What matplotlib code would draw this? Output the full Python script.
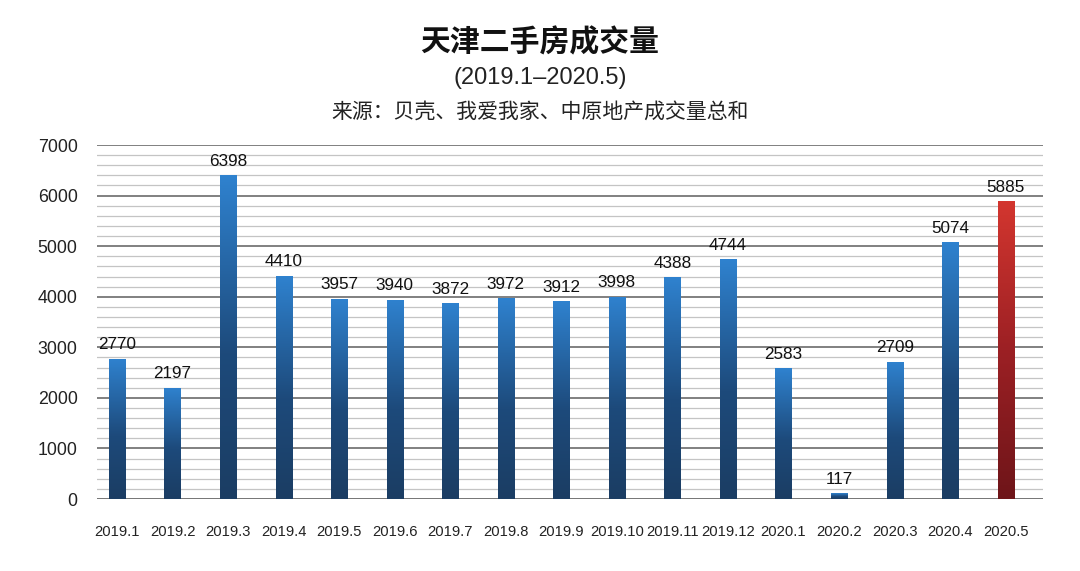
import matplotlib
matplotlib.use("Agg")
import matplotlib.pyplot as plt
import numpy as np
from matplotlib.colors import LinearSegmentedColormap

categories = ["2019.1", "2019.2", "2019.3", "2019.4", "2019.5", "2019.6", "2019.7",
              "2019.8", "2019.9", "2019.10", "2019.11", "2019.12", "2020.1", "2020.2",
              "2020.3", "2020.4", "2020.5"]
values = [2770, 2197, 6398, 4410, 3957, 3940, 3872, 3972, 3912, 3998, 4388, 4744,
          2583, 117, 2709, 5074, 5885]
yticks = [0, 1000, 2000, 3000, 4000, 5000, 6000, 7000]

title = "天津二手房成交量"
subtitle = "(2019.1–2020.5)"
source = "来源：贝壳、我爱我家、中原地产成交量总和"

plt.rcParams['font.family'] = ['Liberation Sans', 'Noto Sans CJK SC', 'DejaVu Sans']

fig = plt.figure(figsize=(10.8, 5.71), dpi=100)
ax = fig.add_axes([0.0898, 0.126, 0.9657 - 0.0898, 0.746 - 0.126])

blue_cmap = LinearSegmentedColormap.from_list(
    "b", [(0.0, "#1b3d63"), (0.45, "#1d4a7b"), (1.0, "#2f82cf")])
red_cmap = LinearSegmentedColormap.from_list(
    "r", [(0.0, "#6e1519"), (0.5, "#9c2024"), (1.0, "#d3362f")])

x = np.arange(len(categories))
width = 0.29
bars = ax.bar(x, values, width=width, color="#1d4a7b", zorder=3)
grad = np.linspace(0, 1, 256).reshape(-1, 1)
for i, (b, v) in enumerate(zip(bars, values)):
    cmap = red_cmap if i == len(values) - 1 else blue_cmap
    b.set_facecolor("none")
    im = ax.imshow(grad, cmap=cmap, origin="lower", aspect="auto",
                   extent=[b.get_x(), b.get_x() + b.get_width(), 0, v], zorder=3)
    im.set_clip_path(b)
    ax.text(b.get_x() + b.get_width() / 2, v + 130, f"{v}", ha="center", va="bottom",
            fontsize=12.3, color="#111111", zorder=4)

ax.set_xlim(-0.36, 16.67)
ax.set_ylim(0, 7000)

# grid lines
for yv in range(200, 7001, 200):
    if yv % 1000 == 0:
        ax.axhline(yv, color="#5e5e5e", lw=1.1, zorder=1)
    else:
        ax.axhline(yv, color="#c4c4c4", lw=0.9, zorder=1)
ax.axhline(0, color="#5e5e5e", lw=1.2, zorder=2)

for s in ax.spines.values():
    s.set_visible(False)
ax.set_yticks(yticks)
ax.set_yticklabels([str(t) for t in yticks], fontsize=12.8, color="#222222")
ax.set_xticks(x)
ax.set_xticklabels(categories, fontsize=10.6, color="#222222")
ax.tick_params(axis="y", length=0, pad=14)
ax.tick_params(axis="x", length=0, pad=19)

fig.text(0.5, 0.926, title, ha="center", va="center", fontsize=21.5, fontweight="bold",
         family=['Noto Sans CJK SC', 'DejaVu Sans'], color="#111111")
fig.text(0.5, 0.863, subtitle, ha="center", va="center", fontsize=17, color="#222222")
fig.text(0.5, 0.804, source, ha="center", va="center", fontsize=15,
         family=['Noto Sans CJK SC', 'DejaVu Sans'], color="#222222")

fig.savefig("out.png", dpi=100)
